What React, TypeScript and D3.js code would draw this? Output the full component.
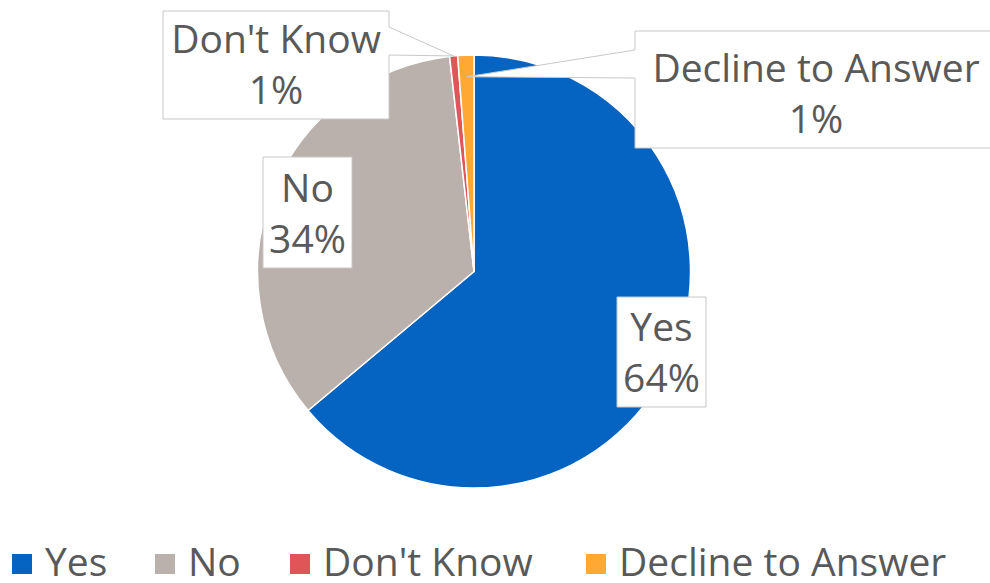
import React from "react";
import * as d3 from "d3";

const categories = ["Yes", "No", "Don't Know", "Decline to Answer"];
const values = [63.9, 34.3, 0.6, 1.2];
const colors = ["#0563C1", "#BAB0AC", "#E05557", "#FFA833"];

const W = 990;
const H = 583;
const FONT = "'Open Sans', 'Noto Sans', sans-serif";
const TEXT = "#595959";
const BORDER = "#C8C8C8";

// label box layout: [x, y, w, h], tip radius factor (null = no callout wedge), wedge attach side
const labelBoxes = [
  { x: 617, y: 297, w: 89, h: 110, tip: null as null | number, side: "none", wy: [0, 0] },
  { x: 263, y: 157, w: 89, h: 111, tip: null as null | number, side: "none", wy: [0, 0] },
  { x: 163, y: 11, w: 226, h: 108, tip: 1.0, side: "right", wy: [27, 55] },
  { x: 635, y: 31, w: 362, h: 117, tip: 0.9, side: "left", wy: [50, 78] },
];

export default function App() {
  const cx = 474;
  const cy = 271.5;
  const r = 216.5;
  const pie = d3.pie<number>().sort(null).value((d) => d);
  const arcs = pie(values);
  const arcGen = d3.arc<d3.PieArcDatum<number>>().innerRadius(0).outerRadius(r);

  const legendX = [12, 155, 290, 586];

  return (
    <svg
      width={W}
      height={H}
      style={{ position: "absolute", left: 0, top: 0, display: "block", background: "#fff" }}
      fontFamily={FONT}
    >
      <g transform={`translate(${cx},${cy})`}>
        {arcs.map((a, i) => (
          <path key={i} d={arcGen(a) || ""} fill={colors[i]} stroke="#fff" strokeWidth={1.5} strokeLinejoin="round" />
        ))}
      </g>
      {arcs.map((a, i) => {
        const b = labelBoxes[i];
        const mid = (a.startAngle + a.endAngle) / 2;
        let d: string;
        if (b.tip !== null) {
          const tx = cx + Math.sin(mid) * r * b.tip;
          const ty = cy - Math.cos(mid) * r * b.tip;
          if (b.side === "right") {
            const xr = b.x + b.w;
            d = `M${b.x},${b.y}H${xr}V${b.wy[0]}L${tx},${ty}L${xr},${b.wy[1]}V${b.y + b.h}H${b.x}Z`;
          } else {
            d = `M${b.x},${b.y}H${b.x + b.w}V${b.y + b.h}H${b.x}V${b.wy[1]}L${tx},${ty}L${b.x},${b.wy[0]}Z`;
          }
        } else {
          d = `M${b.x},${b.y}H${b.x + b.w}V${b.y + b.h}H${b.x}Z`;
        }
        const tcx = b.x + b.w / 2;
        const base1 = b.y + b.h - 66;
        return (
          <g key={`l${i}`}>
            <path d={d} fill="#fff" stroke={BORDER} strokeWidth={1} />
            <text x={tcx} y={base1} textAnchor="middle" fontSize={39} fill={TEXT}>
              {categories[i]}
            </text>
            <text x={tcx} y={base1 + 51} textAnchor="middle" fontSize={39} fill={TEXT}>
              {`${Math.round(values[i])}%`}
            </text>
          </g>
        );
      })}
      {categories.map((c, i) => (
        <g key={`lg${i}`}>
          <rect x={legendX[i]} y={554} width={20} height={20} fill={colors[i]} />
          <text x={legendX[i] + 33} y={576} fontSize={39} fill={TEXT}>
            {c}
          </text>
        </g>
      ))}
    </svg>
  );
}
